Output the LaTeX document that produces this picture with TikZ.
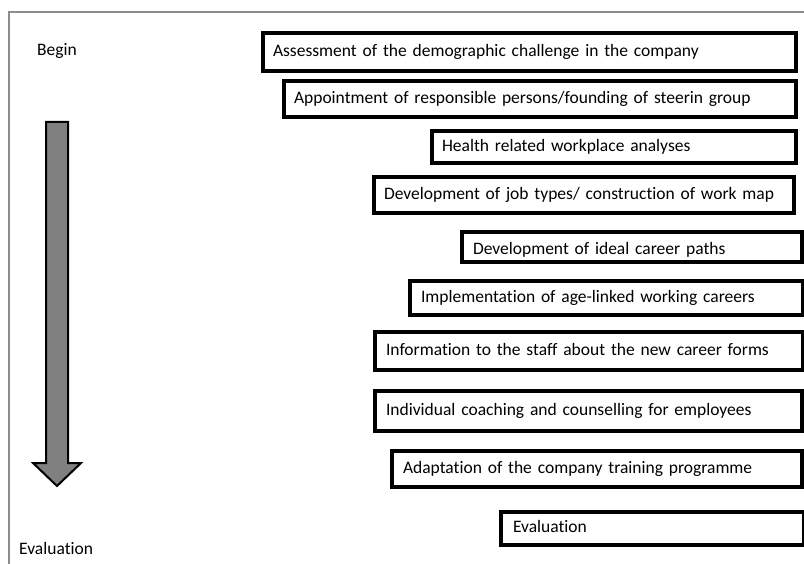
\documentclass[tikz,border=0pt]{standalone}
\usepackage{fontspec}
\setmainfont[Ligatures={NoCommon}]{Carlito}
\begin{document}
\begin{tikzpicture}[x=1pt,y=-1pt,
  stepbox/.style={draw=black, line width=4pt, fill=white, rectangle, align=left,
    inner xsep=10pt, inner ysep=0pt, text height=12.5pt, text depth=4pt,
    font=\fontsize{17.5}{21}\selectfont},
  sidelabel/.style={inner sep=0pt, font=\fontsize{17.5}{21}\selectfont},
  framestyle/.style={draw=black!45, line width=1.5pt},
  bigarrow/.style={draw=black, line width=2pt, fill=black!50, line join=miter}]
\useasboundingbox (0,0) rectangle (804,564);
\newcommand\flowbox[7][]{%
  \pgfmathsetmacro\bw{#5-#3-4}%
  \pgfmathsetmacro\bh{#6-#4-4}%
  \pgfmathsetmacro\tw{\bw-20}%
  \node[stepbox, minimum width=\bw pt, minimum height=\bh pt, text width=\tw pt,
    anchor=north west, #1] (#2) at (#3+2,#4+2) {#7};}
% frame
\draw[framestyle] (9,564) -- (9,12) -- (804,12);
% side labels
\node[sidelabel, anchor=west] (begin) at (37,51) {Begin};
\node[sidelabel, anchor=west] (evallabel) at (19,548) {Evaluation};
% big arrow
\draw[bigarrow] (46,122) -- (68,122) -- (68,463) -- (81,463) -- (57,486)
  -- (33,463) -- (46,463) -- cycle;
% boxes
\flowbox{b1}{259}{29}{796}{71}{Assessment of the demographic challenge in the company}
\flowbox{b2}{280}{77}{796}{117}{Appointment of responsible persons/founding of steerin group}
\flowbox{b3}{428}{127}{796}{163}{Health related workplace analyses}
\flowbox{b4}{370}{173}{794}{213}{Development of job types/ construction of work map}
\flowbox[text height=16pt, text depth=1.5pt, inner xsep=11pt]{b5}{458}{228}{800}{262}{Development of ideal career paths}
\flowbox[inner xsep=11pt]{b6}{406}{277}{801}{315}{Implementation of age-linked working careers}
\flowbox[inner xsep=11pt]{b7}{371}{328}{801}{370}{Information to the staff about the new career forms}
\flowbox[inner xsep=11pt]{b8}{371}{387}{800}{431}{Individual coaching and counselling for employees}
\flowbox[inner xsep=11pt]{b9}{388}{447}{800}{487}{Adaptation of the company training programme}
\flowbox[inner xsep=12pt]{b10}{497}{508}{800}{545}{Evaluation}
\end{tikzpicture}
\end{document}
